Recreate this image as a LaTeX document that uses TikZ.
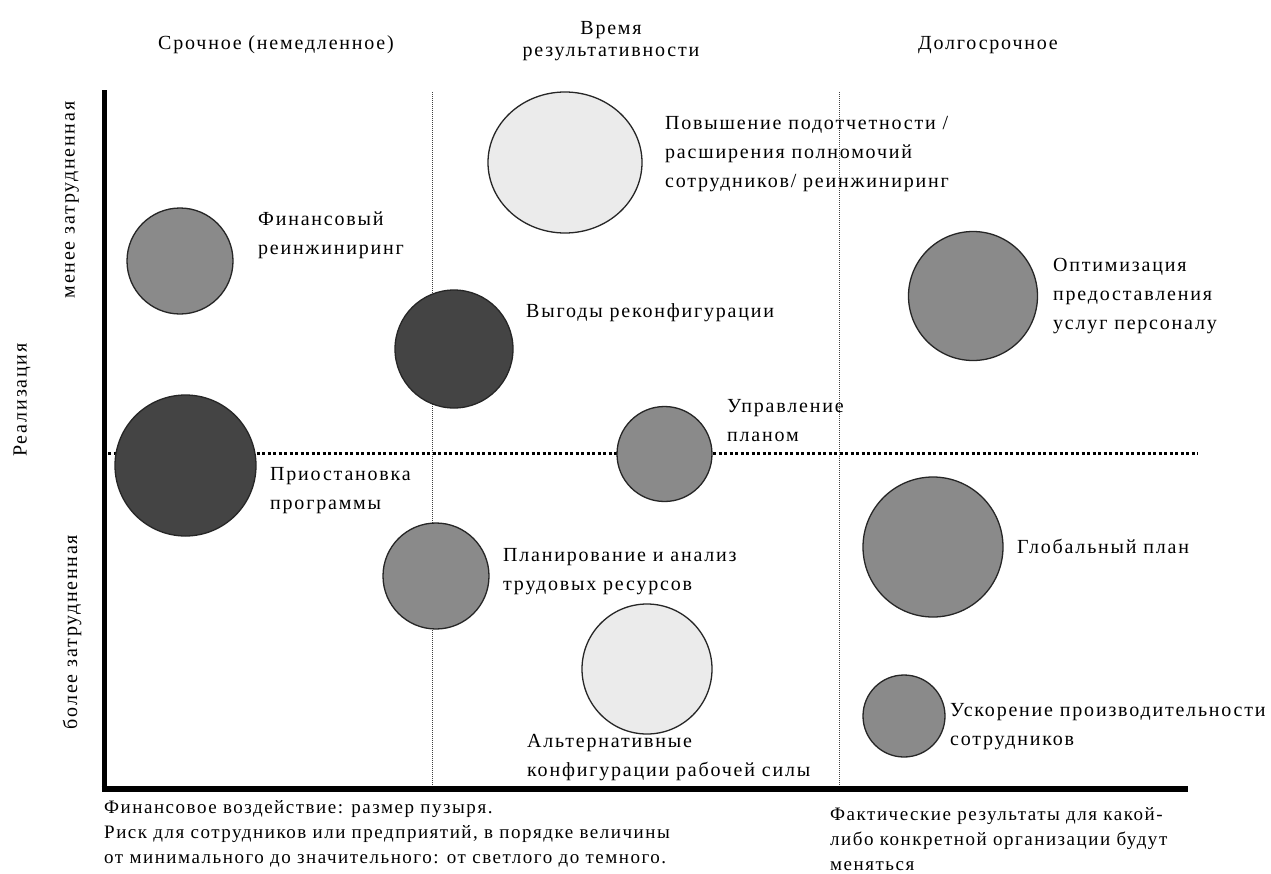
\documentclass[tikz,border=0pt]{standalone}
\usepackage{fontspec}
\setmainfont{Liberation Serif}
\newfontfamily\lblfont[LetterSpace=9]{Liberation Serif}
\newfontfamily\notefont[LetterSpace=8]{Liberation Serif}
\usetikzlibrary{shapes.geometric}
\definecolor{midgray}{HTML}{8A8A8A}
\definecolor{darkbub}{HTML}{444444}
\definecolor{lightbub}{HTML}{EBEBEB}
\begin{document}
\begin{tikzpicture}[x=1pt,y=-1pt,
  bubble/.style={circle,draw=black!85,line width=1.3pt,inner sep=0pt},
  midbub/.style={bubble,fill=midgray},
  darkbubble/.style={bubble,fill=darkbub},
  lightbubble/.style={bubble,fill=lightbub},
  lbl/.style={font=\lblfont\fontsize{20}{29}\selectfont,align=left,inner sep=0pt,anchor=west},
  hdr/.style={font=\lblfont\fontsize{20}{22}\selectfont,align=center,inner sep=0pt},
  note/.style={font=\notefont\fontsize{19}{25}\selectfont,align=left,inner sep=0pt,anchor=west},
  axisline/.style={line width=5pt,black},
  thindot/.style={draw=black!75,line width=0.9pt,dash pattern=on 1pt off 1pt},
  thickdot/.style={draw=black,line width=3pt,dash pattern=on 3pt off 2.5pt}]
\useasboundingbox[fill=white] (0,0) rectangle (1271,873);

% axes
\coordinate (ytop) at (104,90);
\coordinate (origin) at (104,789);
\coordinate (xend) at (1188,789);
\coordinate (v1top) at (432,92);
\coordinate (v1bot) at (432,787);
\coordinate (v2top) at (839,92);
\coordinate (v2bot) at (839,787);
\coordinate (hl) at (108,453);
\coordinate (hr) at (1198,453);

\draw[thindot] (v1top) -- (v1bot);
\draw[thindot] (v2top) -- (v2bot);
\draw[thickdot] (hl) -- (hr);

% bubbles
\node[midbub,minimum size=106pt] (finb) at (180,261) {};
\node[bubble,ellipse,fill=lightbub,minimum width=154pt,minimum height=141pt] (povb) at (565,162.5) {};
\node[darkbubble,minimum size=118pt] (vygb) at (454,349) {};
\node[midbub,minimum size=129pt] (optb) at (973,296) {};
\node[darkbubble,minimum size=141pt] (prib) at (185.5,465.5) {};
\node[midbub,minimum size=95pt] (uprb) at (664.5,454) {};
\node[midbub,minimum size=106pt] (planb) at (436,576) {};
\node[lightbubble,minimum size=130pt] (altb) at (647,669) {};
\node[midbub,minimum size=140pt] (globb) at (933,547) {};
\node[midbub,minimum size=82pt] (uskb) at (904,716) {};

\draw[axisline] (ytop) -- ([yshift=-3pt]origin);
\draw[line width=6pt] ([xshift=-2.5pt]origin) -- (xend);

% bubble labels
\node[lbl] (finl) at (258,235) {Финансовый\\реинжиниринг};
\node[lbl] (povl) at (665,154) {Повышение подотчетности /\\расширения полномочий\\сотрудников/ реинжиниринг};
\node[lbl] (vygl) at (526,313) {Выгоды реконфигурации};
\node[lbl] (optl) at (1053,296) {Оптимизация\\предоставления\\услуг персоналу};
\node[lbl] (uprl) at (727,421) {Управление\\планом};
\node[lbl] (pril) at (270,491) {Приостановка\\программы};
\node[lbl] (planl) at (503,572) {Планирование и анализ\\трудовых ресурсов};
\node[lbl] (altl) at (527,758) {Альтернативные\\конфигурации рабочей силы};
\node[lbl] (globl) at (1017,546) {Глобальный план};
\node[lbl] (uskl) at (950,727) {Ускорение производительности\\сотрудников};

% headers
\node[hdr] (h1) at (276,45) {Срочное (немедленное)};
\node[hdr] (h2) at (611,41) {Время\\результативности};
\node[hdr] (h3) at (988,45) {Долгосрочное};

% vertical axis labels
\node[hdr,rotate=90] (ya) at (72,200) {менее затрудненная};
\node[hdr,rotate=90] (yb) at (22,400) {Реализация};
\node[hdr,rotate=90] (yc) at (72,632) {более затрудненная};

% notes
\node[note] (n1) at (104,834) {Финансовое воздействие: размер пузыря.\\Риск для сотрудников или предприятий,  в порядке величины\\от минимального до значительного: от светлого до темного.};
\node[note] (n2) at (830,839) {Фактические результаты для какой-\\либо конкретной организации будут\\меняться};
\end{tikzpicture}
\end{document}
